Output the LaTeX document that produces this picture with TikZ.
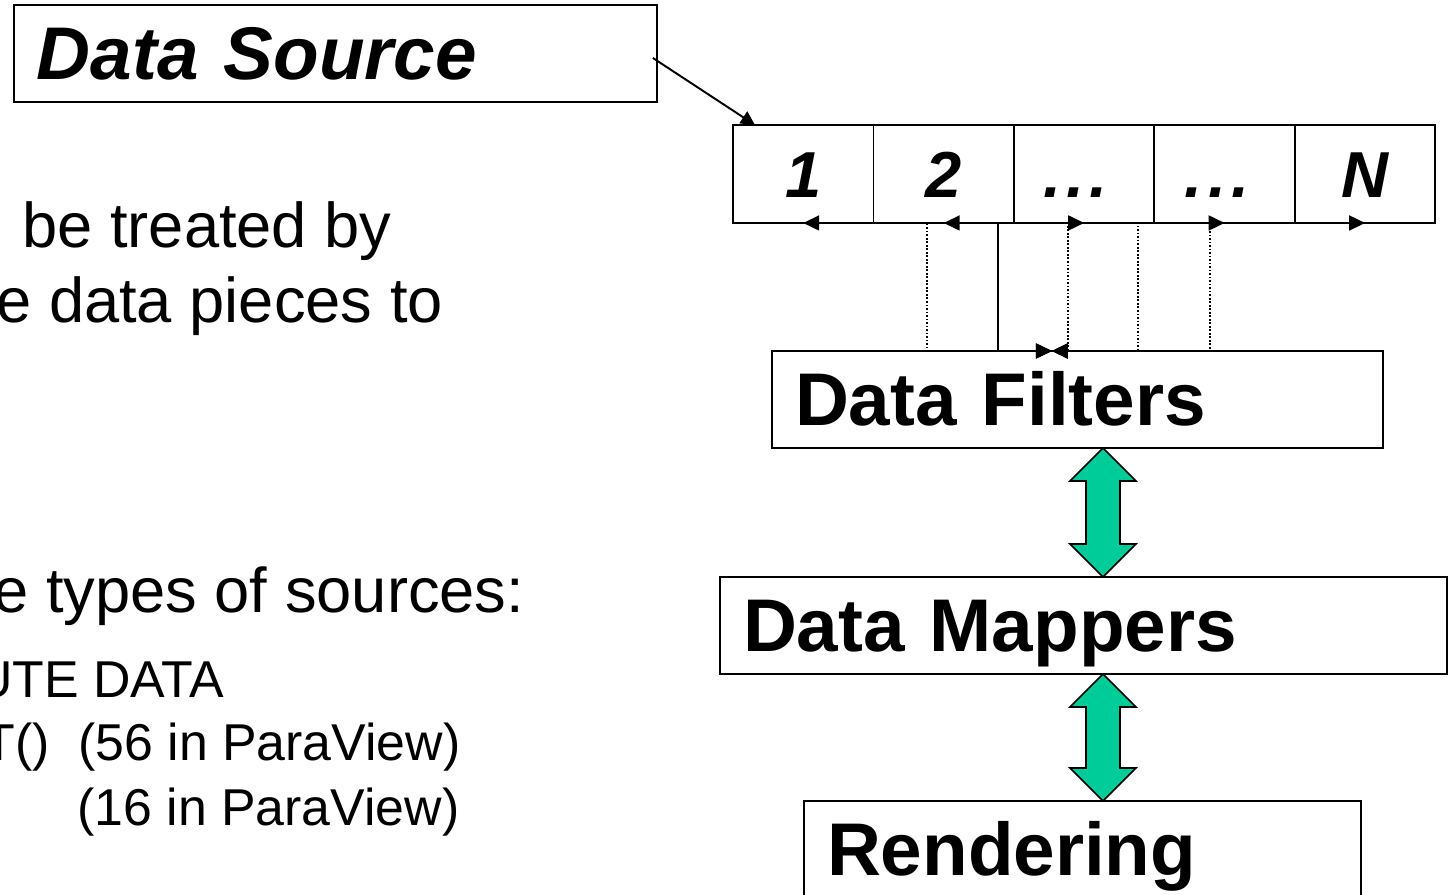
\documentclass[tikz,border=0pt]{standalone}
\usepackage{fontspec}
\setmainfont{Liberation Sans}
\usetikzlibrary{arrows.meta,positioning,calc}
\definecolor{FlowGreen}{HTML}{00CC99}
\definecolor{FlowInk}{HTML}{000000}

\tikzset{
  stagebox/.style={draw=FlowInk,line width=1.1pt,outer sep=0pt,anchor=north west,
    inner xsep=0.46cm,inner ysep=0pt,text width=#1,align=left,
    minimum height=1.94cm,text height=30pt,text depth=0pt,
    font=\fontsize{42.5pt}{48pt}\selectfont\bfseries},
  piececell/.style={draw=FlowInk,line width=1.1pt,outer sep=0pt,inner sep=0pt,
    minimum width=2.81cm,minimum height=1.96cm,text height=26.5pt,text depth=0pt,
    font=\fontsize{37pt}{44pt}\selectfont\bfseries\itshape},
  bodytext/.style={anchor=base west,inner sep=0pt,font=\fontsize{36pt}{43pt}\selectfont},
  subtext/.style={anchor=base west,inner sep=0pt,font=\fontsize{29.5pt}{35pt}\selectfont},
  splitline/.style={line width=1pt,{Triangle[length=0.32cm,width=0.3cm]}-{Triangle[length=0.32cm,width=0.3cm]}},
  fatarrow/.style={draw=FlowInk,line width=0.9pt,fill=FlowGreen,line join=miter}
}

% fat two-headed arrow between two points on one vertical
\newcommand{\fatarrow}[2]{%
  \draw[fatarrow] (#1) -- ($(#1)+(33,33)$) -- ($(#1)+(17,33)$) -- ($(#2)+(17,-33)$)
    -- ($(#2)+(33,-33)$) -- (#2) -- ($(#2)+(-33,-33)$) -- ($(#2)+(-17,-33)$)
    -- ($(#1)+(-17,33)$) -- ($(#1)+(-33,33)$) -- cycle;}
\newcommand{\piecedots}{.\kern3pt.\kern3pt.}

\begin{document}
\begin{tikzpicture}[x=0.02cm,y=-0.02cm]
\path[use as bounding box] (0,0) rectangle (1455,895);
\clip (0,0) rectangle (1455,895);

% left column text (cut at the page edge)
\node[bodytext] (lineA) at (22,248) {be treated by};
\node[bodytext] (lineB) at (-4,323) {e data pieces to};
\node[bodytext] (lineC) at (-7,612) {e types of sources:};
\node[subtext] (lineD) at (-25,697) {UTE DATA};
\node[subtext] (lineE) at (-17,760) {T()\ \ (56 in ParaView)};
\node[subtext] (lineF) at (77,825) {(16 in ParaView)};

% pipeline boxes
\node[stagebox=11.94cm,font=\fontsize{42.5pt}{48pt}\selectfont\bfseries\itshape] (source) at (14,5) {Data Source};
\node[stagebox=11.30cm] (filters) at (772,351) {Data Filters};
\node[stagebox=13.62cm] (mappers) at (720,577) {Data Mappers};
\node[stagebox=10.22cm] (render) at (804,801) {Rendering};

% data pieces
\node[piececell,anchor=north west] (c1) at (733,125) {1};
\node[piececell,right=0pt of c1] (c2) {2};
\node[piececell,right=0pt of c2] (c3) {\hspace*{-0.35cm}\piecedots};
\node[piececell,right=0pt of c3] (c4) {\hspace*{-0.3cm}\piecedots};
\node[piececell,right=0pt of c4] (cN) {N};

\draw[line width=1.1pt,-{Triangle[length=0.28cm,width=0.28cm]}] ([xshift=-0.08cm,yshift=-0.09cm]source.east) -- ([xshift=0.44cm]c1.north west);

% pieces to filters
\coordinate (hub) at ([xshift=-0.51cm]filters.north);
\draw[splitline,densely dotted] (c1.south) -- (927,0 |- c1.south) -- (927,0 |- hub) -- (hub);
\draw[splitline] (c2.south) -- (998,0 |- c2.south) -- (998,0 |- hub) -- (hub);
\draw[splitline,densely dotted] (c3.south) -- (1068,0 |- c3.south) -- (1068,0 |- hub) -- (hub);
\draw[splitline,densely dotted] (c4.south) -- (1138,0 |- c4.south) -- (1138,0 |- hub) -- (hub);
\draw[splitline,densely dotted] (cN.south) -- (1210,0 |- cN.south) -- (1210,0 |- hub) -- (hub);

% green links
\coordinate (g1top) at (1103,0 |- filters.south);
\coordinate (g1bot) at (1103,0 |- mappers.north);
\coordinate (g2top) at (1103,0 |- mappers.south);
\coordinate (g2bot) at (1103,0 |- render.north);
\fatarrow{g1top}{g1bot}
\fatarrow{g2top}{g2bot}
\end{tikzpicture}
\end{document}
